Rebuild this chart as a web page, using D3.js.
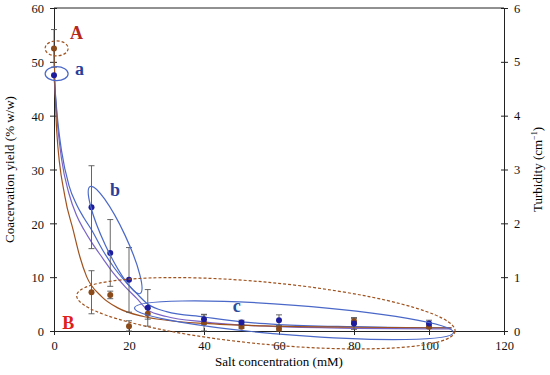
<!DOCTYPE html>
<html>
<head>
  <meta charset="utf-8">
  <title>coacervation</title>
  <style>
    body { margin: 0; background: #fff; }
    svg text { font-family: "Liberation Serif", "Times New Roman", Times, "DejaVu Serif", serif !important; }
  </style>
</head>
<body>
<script src="https://cdnjs.cloudflare.com/ajax/libs/d3/7.8.5/d3.min.js"></script>
<script>
// salt concentration (mM)
const salt = [0, 10, 15, 20, 25, 40, 50, 60, 80, 100];
// coacervation yield (% w/w) and its error
const yieldVals = [47.5, 23, 14.5, 9.5, 4.3, 2.2, 1.6, 2.0, 1.4, 1.4];
const yieldErr  = [0, 7.7, 6.2, 6.0, 3.4, 0.9, 0.4, 1.0, 1.1, 0.6];
// turbidity (cm-1) and its error
const turbVals = [5.25, 0.72, 0.67, 0.09, 0.32, 0.15, 0.08, 0.04, 0.18, 0.08];
const turbErr  = [0.35, 0.4, 0.07, 0.1, 0.1, 0.15, 0.03, 0.04, 0.05, 0.03];

// fitted curves
const fitX = [0, 1, 2, 4, 6, 8, 10, 13, 16, 19, 22, 25, 30, 40, 50, 60, 80, 100, 106];
const fitYieldA = [47.5, 39, 33.5, 27, 23.5, 21, 18.8, 15, 11.8, 9.2, 7, 5, 3.6, 2.6, 1.7, 1.2, 0.8, 0.6, 0.6];
const fitYieldB = [47.5, 38, 32, 25.5, 21.5, 18.8, 16.5, 13.5, 10.6, 8.2, 6.1, 3.9, 2.7, 1.7, 1.1, 0.8, 0.5, 0.4, 0.4];
const turbFitX = [0, 0.7, 2.9, 5.1, 6.9, 8.7, 12.7, 17, 23.8, 30, 40, 60, 80, 100, 106];
const turbFit  = [5.25, 3.74, 2.5, 1.88, 1.38, 1.01, 0.64, 0.43, 0.27, 0.2, 0.14, 0.09, 0.07, 0.06, 0.06];

const xTicks = [0, 20, 40, 60, 80, 100, 120];
const yTicks = [0, 10, 20, 30, 40, 50, 60];
const rTicks = [0, 1, 2, 3, 4, 5, 6];

const width = 550, height = 375;
const m = { left: 54, right: 46, top: 8, bottom: 44 };
const serif = '"Liberation Serif", "Times New Roman", Times, "DejaVu Serif", serif';

const svg = d3.select("body").append("svg")
  .attr("width", width).attr("height", height)
  .attr("font-family", serif);

const x = d3.scaleLinear().domain([0, 120]).range([m.left, width - m.right]);
const yL = d3.scaleLinear().domain([0, 60]).range([height - m.bottom, m.top]);
const yR = d3.scaleLinear().domain([0, 6]).range([height - m.bottom, m.top]);

const blue = "#4a68c8", purple = "#7a63c6", brown = "#a0521e";
const dotBlue = "#1c1c9c", dotBrown = "#8a4a1a";

// frame
svg.append("line").attr("x1", x(0)).attr("x2", x(120)).attr("y1", m.top).attr("y2", m.top)
  .attr("stroke", "#222");

// axes
const fmt = d3.format("d");
const gx = svg.append("g").attr("transform", `translate(0,${yL(0)})`)
  .call(d3.axisBottom(x).tickValues(xTicks).tickFormat(fmt).tickSize(4).tickPadding(6));
const gy = svg.append("g").attr("transform", `translate(${x(0)},0)`)
  .call(d3.axisLeft(yL).tickValues(yTicks).tickFormat(fmt).tickSize(4).tickPadding(6));
const gr = svg.append("g").attr("transform", `translate(${x(120)},0)`)
  .call(d3.axisRight(yR).tickValues(rTicks).tickFormat(fmt).tickSize(4).tickPadding(6));
[gx, gy, gr].forEach(g => {
  g.attr("font-family", serif);
  g.select(".domain").attr("stroke", "#222");
  g.selectAll(".tick line").attr("stroke", "#222");
  g.selectAll("text").attr("font-size", 12.5).attr("fill", "#111");
});
// ticks cross the axis
gx.selectAll(".tick line").attr("y1", -3);
gy.selectAll(".tick line").attr("x1", 3);
gr.selectAll(".tick line").attr("x1", -3);
gy.selectAll(".tick text").attr("dy", "0.38em");

// axis titles
svg.append("text").attr("x", x(60)).attr("y", 366).attr("text-anchor", "middle")
  .attr("font-size", 13).text("Salt concentration (mM)");
svg.append("text").attr("transform", `translate(14,${yL(30)}) rotate(-90)`)
  .attr("text-anchor", "middle").attr("font-size", 13).text("Coacervation yield (% w/w)");
const rt = svg.append("text").attr("transform", `translate(542,${yR(3)}) rotate(-90)`)
  .attr("text-anchor", "middle").attr("font-size", 13);
rt.append("tspan").text("Turbidity (cm");
rt.append("tspan").attr("font-size", 8).attr("dy", -5).text("−1");
rt.append("tspan").attr("dy", 5).text(")");

// fitted curves
const lineL = d3.line().x(d => x(d[0])).y(d => yL(d[1])).curve(d3.curveMonotoneX);
const lineR = d3.line().x(d => x(d[0])).y(d => yR(d[1])).curve(d3.curveMonotoneX);
svg.append("path").datum(d3.zip(fitX, fitYieldB)).attr("d", lineL)
  .attr("fill", "none").attr("stroke", purple).attr("stroke-width", 1.2);
svg.append("path").datum(d3.zip(fitX, fitYieldA)).attr("d", lineL)
  .attr("fill", "none").attr("stroke", blue).attr("stroke-width", 1.2);
svg.append("path").datum(d3.zip(turbFitX, turbFit)).attr("d", lineR)
  .attr("fill", "none").attr("stroke", brown).attr("stroke-width", 1.2);

// error bars
function errorBars(vals, errs, scale) {
  const g = svg.append("g").attr("stroke", "#555").attr("stroke-width", 0.9);
  salt.forEach((s, i) => {
    if (!errs[i]) return;
    const lo = scale(Math.max(0, vals[i] - errs[i])), hi = scale(vals[i] + errs[i]);
    g.append("line").attr("x1", x(s)).attr("x2", x(s)).attr("y1", lo).attr("y2", hi);
    g.append("line").attr("x1", x(s) - 3).attr("x2", x(s) + 3).attr("y1", lo).attr("y2", lo);
    g.append("line").attr("x1", x(s) - 3).attr("x2", x(s) + 3).attr("y1", hi).attr("y2", hi);
  });
}
errorBars(turbVals, turbErr, yR);
errorBars(yieldVals, yieldErr, yL);

// points
svg.append("g").selectAll("circle").data(d3.zip(salt, turbVals)).join("circle")
  .attr("cx", d => x(d[0])).attr("cy", d => yR(d[1])).attr("r", 3).attr("fill", dotBrown);
svg.append("g").selectAll("circle").data(d3.zip(salt, yieldVals)).join("circle")
  .attr("cx", d => x(d[0])).attr("cy", d => yL(d[1])).attr("r", 3).attr("fill", dotBlue);

// annotation ellipses (centre in data units, radii in px)
const rings = [
  { cx: 0.7, cy: 52.5, rx: 11.5, ry: 7.5, rot: 0, color: brown, dash: "3,2" },
  { cx: 0.7, cy: 47.8, rx: 11.5, ry: 7, rot: 0, color: blue, dash: null },
  { cx: 16.3, cy: 16.9, rx: 59, ry: 11, rot: 65, color: blue, dash: null },
  { cx: 64, cy: 2.0, rx: 160, ry: 15, rot: 4.4, color: blue, dash: null },
  { cx: 56.5, cy: 3.3, rx: 190, ry: 31, rot: 5.4, color: brown, dash: "3,2" }
];
svg.append("g").selectAll("ellipse").data(rings).join("ellipse")
  .attr("cx", d => x(d.cx)).attr("cy", d => yL(d.cy))
  .attr("rx", d => d.rx).attr("ry", d => d.ry)
  .attr("transform", d => `rotate(${d.rot},${x(d.cx)},${yL(d.cy)})`)
  .attr("fill", "none").attr("stroke", d => d.color).attr("stroke-width", 1.2)
  .attr("stroke-dasharray", d => d.dash);

const labels = [
  { t: "A", x: 6.0, y: 54.3, color: "#b5281c" },
  { t: "a", x: 6.8, y: 47.6, color: "#2a3f9a" },
  { t: "b", x: 16.3, y: 25, color: "#2a3f9a" },
  { t: "c", x: 48.7, y: 3.6, color: "#2a4f9a" },
  { t: "B", x: 3.8, y: 0.3, color: "#e0201b" }
];
svg.append("g").selectAll("text").data(labels).join("text")
  .attr("x", d => x(d.x)).attr("y", d => yL(d.y)).attr("text-anchor", "middle")
  .attr("font-size", 18).attr("font-weight", "bold").attr("fill", d => d.color)
  .text(d => d.t);
</script>
</body>
</html>
